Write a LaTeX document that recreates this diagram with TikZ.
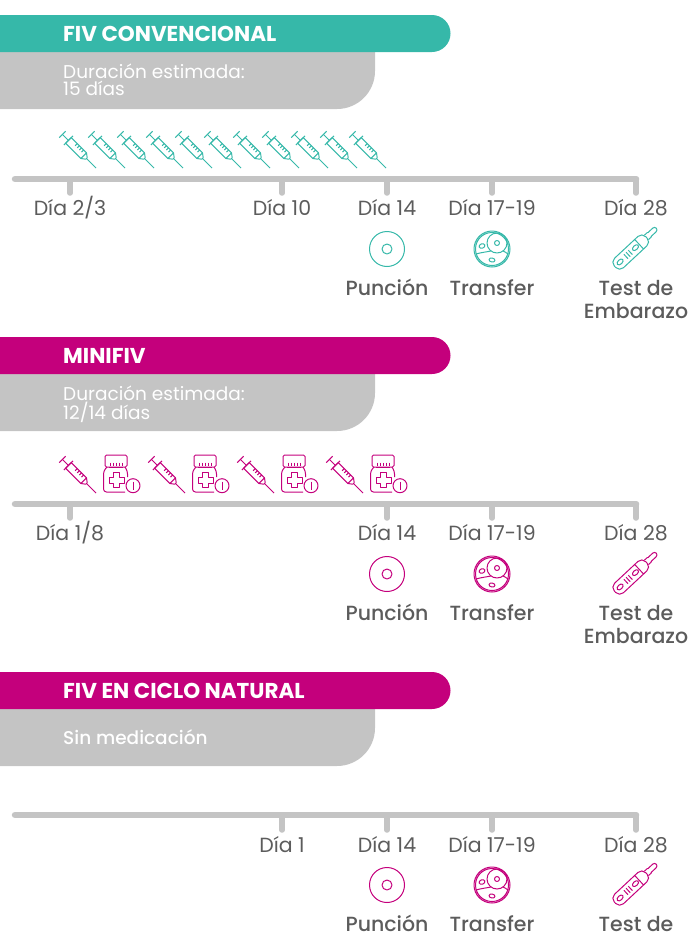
\documentclass[tikz,border=0pt]{standalone}
\usepackage{fontspec}
\setmainfont{Poppins}
\newfontfamily\medfont{Poppins Medium}
\usetikzlibrary{positioning,calc}
\definecolor{tealColor}{HTML}{36B8A9}
\definecolor{magColor}{HTML}{C4007C}
\definecolor{greyColor}{HTML}{C4C4C4}
\definecolor{txtColor}{HTML}{5C5C5C}
\tikzset{
	iconline/.style={line width=1pt,line join=round},
	banner/.style={anchor=west,text=white,font=\bfseries\fontsize{21.5}{21.5}\selectfont,inner sep=0},
	durtext/.style={anchor=north west,text=white,align=left,font=\fontsize{18.5}{17}\selectfont,inner sep=0},
	daylab/.style={text=txtColor,font=\fontsize{20.5}{20.5}\selectfont,inner sep=0},
	steplab/.style={text=txtColor,align=center,font=\medfont\fontsize{20.5}{23}\selectfont,inner sep=0},
	axisline/.style={greyColor,line width=6.5pt,line cap=round},
	axistick/.style={greyColor,line width=5.5pt,line cap=round},
	pics/syringe/.style={code={
		\begin{scope}[rotate=-45,iconline,#1]
			\draw (-22,-4.5) -- (-22,4.5);
			\draw (-22,0) -- (-13.5,0);
			\draw (-13.5,-6.5) -- (-13.5,6.5);
			\draw (-13.5,-4) rectangle (8,4);
			\draw (8,-4) -- (12,-1) -- (12,1) -- (8,4);
			\draw (12,0) -- (25.5,0);
			\foreach \gr in {-5,-2,1,4} {\draw (\gr,4) -- (\gr,1);}
		\end{scope}
	}},
	pics/bottle/.style={code={
		\begin{scope}[iconline,#1]
			\draw[rounded corners=1.5pt] (-11,19) rectangle (11,7);
			\foreach \gr in {-6,-3,0,3,6} {\draw (\gr,11.5) -- (\gr,8.5);}
			\draw (-7,7) -- (7,7);
			\draw[rounded corners=3pt] (9,7) -- (11.5,3) -- (11.5,-3);
			\draw[rounded corners=3pt] (-9,7) -- (-12.5,3) -- (-12.5,-18) -- (9,-18);
			\draw (-2.5,-13.5) -- (3.5,-13.5) -- (3.5,-9) -- (8,-9) -- (8,-3) -- (3.5,-3) -- (3.5,1.5)
				-- (-2.5,1.5) -- (-2.5,-3) -- (-7,-3) -- (-7,-9) -- (-2.5,-9) -- cycle;
			\draw (17,-11.7) circle (7);
			\draw (17,-7.5) -- (17,-15.5);
		\end{scope}
	}},
	pics/ovule/.style={code={
		\draw[iconline,#1] (0,0) circle (17.5) (0,0) circle (5);
	}},
	pics/embryo/.style={code={
		\begin{scope}[iconline,#1]
			\draw (0,0) circle (18) (0,0) circle (16.5);
			\draw (5,6) circle (10) (5,6) circle (2.5);
			\draw (-16,-5) .. controls (-11,-3.5) and (-6,-3) .. (-1,-2);
			\draw (11,-2) .. controls (13,-3) and (15,-4) .. (16,-5);
			\draw[rotate around={20:(-10,3)}] (-10,3) ellipse (3 and 2.2);
			\draw[rotate around={-10:(0,-11)}] (0,-11) ellipse (3 and 2);
		\end{scope}
	}},
	pics/pregtest/.style={code={
		\begin{scope}[rotate=43,iconline,#1]
			\draw[rounded corners=5.5pt] (-26,-6.5) rectangle (17,6.5);
			\draw (7,-6.5) -- (7,6.5);
			\draw (17,-3) -- (21,-3) -- (21,-2.5) -- (28,-2.5) arc (-90:90:2.5) -- (21,2.5) -- (21,3) -- (17,3);
			\draw (-19,0) ellipse (3.6 and 2.2);
			\foreach \gr in {-11,-8,-5} {\draw (\gr,-3) -- (\gr,3);}
			\draw (2,0) ellipse (3.6 and 2.2);
		\end{scope}
	}}
}
\begin{document}
\begin{tikzpicture}[x=1pt,y=1pt]
	\useasboundingbox (0,0) rectangle (690,-937);
	%% FIV convencional
	\fill[greyColor] (0,-52) -- (375,-52) -- (375,-71) arc (0:-90:38) -- (0,-109) -- cycle;
	\fill[tealColor] (0,-15) -- (432,-15) arc (90:-90:18.5) -- (0,-52) -- cycle;
	\node[banner] (fivA) at (63,-34) {FIV CONVENCIONAL};
	\node[durtext] (durA) at (63,-64) {Duración estimada:\\15 días};
	\foreach \i in {0,...,10} {
		\pic at ({78+29*\i},-150) {syringe=tealColor};
	}
	\coordinate (axA1) at (15,-179);
	\coordinate (axA2) at (636,-179);
	\draw[axisline] (axA1) -- (axA2);
	\foreach \xx/\nm/\tx in {70/a/Día 2\slash 3,282/b/Día 10,387/c/Día 14,492/d/Día 17-19,636/e/Día 28} {
		\node[daylab] (lab\nm) at (\xx,-208) {\tx};
		\draw[axistick] (\xx,-179) -- (\xx,-193);
	}
	\pic at (387,-249) {ovule=tealColor};
	\pic at (492,-249) {embryo=tealColor};
	\pic at (634,-249) {pregtest=tealColor};
	\node[steplab] (punA) at (387,-287) {Punción};
	\node[steplab] (traA) at (492,-288) {Transfer};
	\node[steplab,anchor=north] (tesA) at (636,-280) {Test de\\Embarazo};
	%% Minifiv
	\fill[greyColor] (0,-374) -- (375,-374) -- (375,-393) arc (0:-90:38) -- (0,-431) -- cycle;
	\fill[magColor] (0,-337) -- (432,-337) arc (90:-90:18.5) -- (0,-374) -- cycle;
	\node[banner] (fivB) at (63,-356) {MINIFIV};
	\node[durtext] (durB) at (63,-386) {Duración estimada:\\12/14 días};
	\foreach \i in {0,...,3} {
		\pic at ({78+89*\i},-475) {syringe=magColor};
		\pic at ({116+89*\i},-474) {bottle=magColor};
	}
	\coordinate (axB1) at (15,-504);
	\coordinate (axB2) at (636,-504);
	\draw[axisline] (axB1) -- (axB2);
	\foreach \xx/\nm/\tx in {70/a/Día 1\slash 8,387/c/Día 14,492/d/Día 17-19,636/e/Día 28} {
		\node[daylab] (lbb\nm) at (\xx,-533) {\tx};
		\draw[axistick] (\xx,-504) -- (\xx,-518);
	}
	\pic at (387,-574) {ovule=magColor};
	\pic at (492,-574) {embryo=magColor};
	\pic at (634,-574) {pregtest=magColor};
	\node[steplab] (punB) at (387,-612) {Punción};
	\node[steplab] (traB) at (492,-613) {Transfer};
	\node[steplab,anchor=north] (tesB) at (636,-605) {Test de\\Embarazo};
	%% Ciclo natural
	\fill[greyColor] (0,-709) -- (375,-709) -- (375,-728) arc (0:-90:38) -- (0,-766) -- cycle;
	\fill[magColor] (0,-672) -- (432,-672) arc (90:-90:18.5) -- (0,-709) -- cycle;
	\node[banner] (fivC) at (63,-691) {FIV EN CICLO NATURAL};
	\node[durtext,anchor=west,font=\medfont\fontsize{18.5}{16}\selectfont] (durC) at (63,-737) {Sin medicación};
	\coordinate (axC1) at (15,-815);
	\coordinate (axC2) at (636,-815);
	\draw[axisline] (axC1) -- (axC2);
	\foreach \xx/\nm/\tx in {282/b/Día 1,387/c/Día 14,492/d/Día 17-19,636/e/Día 28} {
		\node[daylab] (lbc\nm) at (\xx,-845) {\tx};
		\draw[axistick] (\xx,-815) -- (\xx,-830);
	}
	\pic at (387,-885) {ovule=magColor};
	\pic at (492,-885) {embryo=magColor};
	\pic at (634,-885) {pregtest=magColor};
	\node[steplab] (punC) at (387,-923.5) {Punción};
	\node[steplab] (traC) at (492,-924) {Transfer};
	\node[steplab] (tesC) at (636,-924) {Test de};
\end{tikzpicture}
\end{document}
